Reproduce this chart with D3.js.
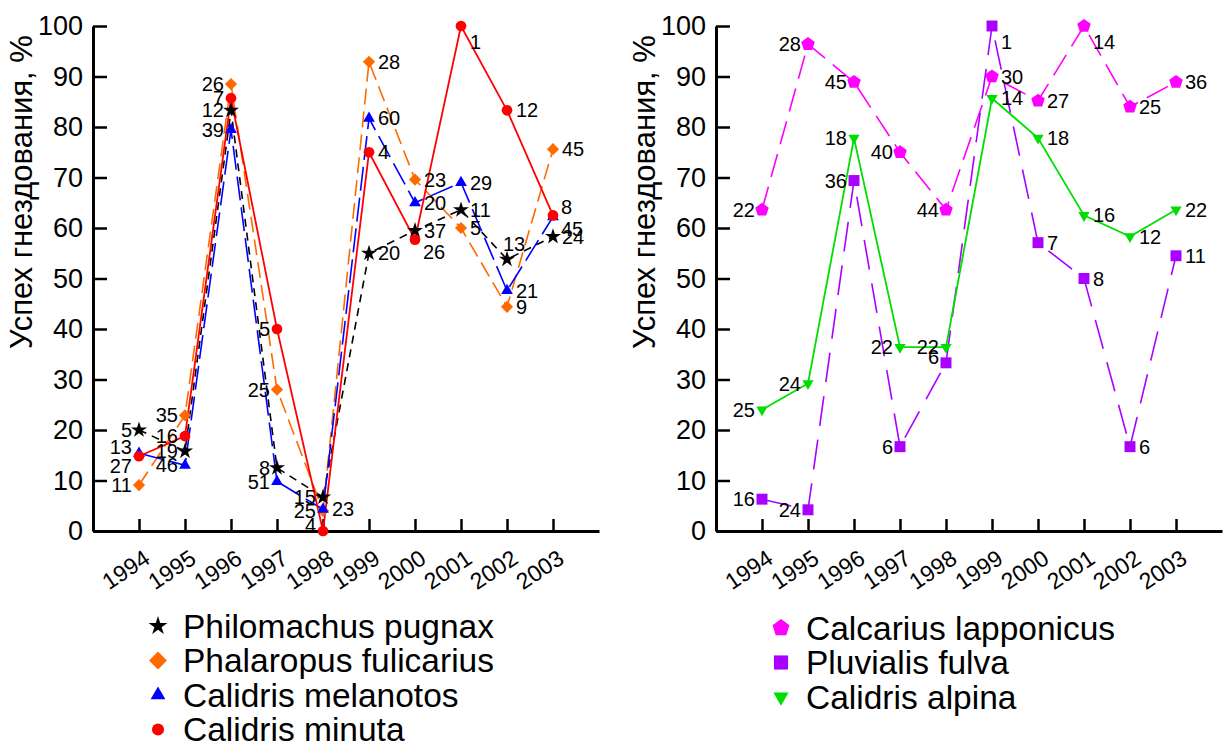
<!DOCTYPE html>
<html>
<head>
<meta charset="utf-8">
<script src="https://cdn.jsdelivr.net/npm/d3@7"></script>
<style>
body{margin:0;background:#fff}
svg text{font-family:"Liberation Sans",Arial,sans-serif;fill:#000}
</style>
</head>
<body>
<svg id="canvas" width="1232" height="745"></svg>
<script>
// years and nesting success (%) with sample sizes
let years = [1994, 1995, 1996, 1997, 1998, 1999, 2000, 2001, 2002, 2003]
let yTicks = [0, 10, 20, 30, 40, 50, 60, 70, 80, 90, 100]
let yTitle = 'Успех гнездования, %'

let pugnaxValues = [20, 15.8, 83.3, 12.5, 6.7, 55, 59.5, 63.6, 53.8, 58.3]
let pugnaxN = [5, 19, 12, 8, 15, 20, 37, 11, 13, 24]
let fulicariusValues = [9.1, 22.9, 88.5, 28, 4, 92.9, 69.6, 60, 44.4, 75.6]
let fulicariusN = [11, 35, 26, 25, 25, 28, 23, 5, 9, 45]
let melanotosValues = [15.4, 13, 79.5, 9.8, 4.3, 81.7, 65, 69, 47.6, 62.2]
let melanotosN = [13, 46, 39, 51, 23, 60, 20, 29, 21, 45]
let minutaValues = [14.8, 18.8, 85.7, 40, 0, 75, 57.7, 100, 83.3, 62.5]
let minutaN = [27, 16, 7, 5, 4, 4, 26, 1, 12, 8]

let lapponicusValues = [63.6, 96.4, 88.9, 75, 63.6, 90, 85.2, 100, 84, 88.9]
let lapponicusN = [22, 28, 45, 40, 44, 30, 27, 14, 25, 36]
let fulvaValues = [6.3, 4.2, 69.4, 16.7, 33.3, 100, 57.1, 50, 16.7, 54.5]
let fulvaN = [16, 24, 36, 6, 6, 1, 7, 8, 6, 11]
let alpinaValues = [24, 29.2, 77.8, 36.4, 36.4, 85.7, 77.8, 62.5, 58.3, 63.6]
let alpinaN = [25, 24, 18, 22, 22, 14, 18, 16, 12, 22]

let canvas = d3.select('#canvas')

// pentagon symbol for d3.symbol
let symbolPentagon = {
    draw: (context, size)=>{
        let r = Math.sqrt(size / 2.3776)
        for(let i = 0; i < 5; i++){
            let a = -Math.PI / 2 + i * 2 * Math.PI / 5
            if(i === 0) context.moveTo(r * Math.cos(a), r * Math.sin(a))
            else context.lineTo(r * Math.cos(a), r * Math.sin(a))
        }
        context.closePath()
    }
}

// label placement around a point
let place = {
    l:  {dx: -7, dy: 0, anchor: 'end'},
    lb: {dx: -7, dy: 10, anchor: 'end'},
    lu: {dx: -7, dy: -6, anchor: 'end'},
    r:  {dx: 9, dy: 0, anchor: 'start'},
    rb: {dx: 8, dy: 12, anchor: 'start'},
    rd: {dx: 9, dy: 16, anchor: 'start'},
    ru: {dx: 8, dy: -8, anchor: 'start'},
    ur: {dx: -4, dy: -15, anchor: 'start'}
}

let leftSeries = [
    {name: 'Philomachus pugnax', values: pugnaxValues, n: pugnaxN, color: '#000000', dash: '8,6', width: 1.6,
     symbol: d3.symbolStar, size: 80, legendSize: 110, rotate: 0,
     labels: ['l','l','l','l','l','r','r','r','ur','r']},
    {name: 'Phalaropus fulicarius', values: fulicariusValues, n: fulicariusN, color: '#ff6a00', dash: '16,7', width: 1.6,
     symbol: d3.symbolSquare, size: 75, legendSize: 160, rotate: 45,
     labels: ['l','l','l','l','l','r','r','r','r','r']},
    {name: 'Calidris melanotos', values: melanotosValues, n: melanotosN, color: '#0000ff', dash: '24,7', width: 1.6,
     symbol: d3.symbolTriangle, size: 60, legendSize: 95, rotate: 0,
     labels: ['lu','l','l','l','r','r','r','r','r','rb']},
    {name: 'Calidris minuta', values: minutaValues, n: minutaN, color: '#ff0000', dash: null, width: 1.8,
     symbol: d3.symbolCircle, size: 90, legendSize: 115, rotate: 0,
     labels: ['lb','l','l','l','lu','r','rb','rd','r','ru']}
]

let rightSeries = [
    {name: 'Calcarius lapponicus', values: lapponicusValues, n: lapponicusN, color: '#ff00ff', dash: '24,10', width: 1.6,
     symbol: symbolPentagon, size: 120, legendSize: 190, rotate: 0,
     labels: ['l','l','l','l','l','r','r','rd','r','r']},
    {name: 'Pluvialis fulva', values: fulvaValues, n: fulvaN, color: '#aa00ff', dash: '30,14', width: 1.6,
     symbol: d3.symbolSquare, size: 120, legendSize: 200, rotate: 0,
     labels: ['l','l','l','l','lu','rd','r','r','r','r']},
    {name: 'Calidris alpina', values: alpinaValues, n: alpinaN, color: '#00dd00', dash: null, width: 1.8,
     symbol: d3.symbolTriangle, size: 55, legendSize: 100, rotate: 180,
     labels: ['l','l','l','l','l','r','r','r','r','r']}
]

let drawChart = (series, left, legendX, legendY)=>{
    let g = canvas.append('g')
    let xScale = d3.scaleLinear().domain([1993, 2004]).range([left, left + 506])
    let yScale = d3.scaleLinear().domain([0, 100]).range([531, 26])

    // y axis
    let yAxis = d3.axisLeft(yScale).tickValues(yTicks).tickSizeInner(-14).tickSizeOuter(0)
    let ya = g.append('g').attr('transform', 'translate(' + left + ',0)').call(yAxis)
    ya.select('.domain').attr('stroke-width', 3)
    ya.selectAll('.tick line').attr('stroke-width', 2.5)
    ya.selectAll('.tick text').attr('font-size', 27).attr('x', -10)

    // x axis
    let xAxis = d3.axisBottom(xScale).tickValues(years).tickFormat(d3.format('d')).tickSizeInner(-12).tickSizeOuter(0)
    let xa = g.append('g').attr('transform', 'translate(0,531)').call(xAxis)
    xa.select('.domain').attr('stroke-width', 3)
    xa.selectAll('.tick line').attr('stroke-width', 2.5)
    xa.selectAll('.tick text')
      .attr('font-size', 23)
      .attr('text-anchor', 'end')
      .attr('dy', null)
      .attr('y', null)
      .attr('transform', 'translate(12,31) rotate(-34)')

    g.append('text')
     .attr('transform', 'translate(' + (left - 61) + ',192) rotate(-90)')
     .attr('text-anchor', 'middle')
     .attr('font-size', 31)
     .text(yTitle)

    let line = d3.line().x((d, i)=>xScale(years[i])).y((d)=>yScale(d))

    series.forEach((s)=>{
        g.append('path')
         .attr('d', line(s.values))
         .attr('fill', 'none')
         .attr('stroke', s.color)
         .attr('stroke-width', s.width)
         .attr('stroke-dasharray', s.dash)
    })

    series.forEach((s)=>{
        g.selectAll(null)
         .data(s.values)
         .enter()
         .append('path')
         .attr('d', d3.symbol().type(s.symbol).size(s.size))
         .attr('transform', (d, i)=>'translate(' + xScale(years[i]) + ',' + yScale(d) + ') rotate(' + s.rotate + ')')
         .attr('fill', s.color)
    })

    series.forEach((s)=>{
        g.selectAll(null)
         .data(s.values)
         .enter()
         .append('text')
         .attr('x', (d, i)=>xScale(years[i]) + place[s.labels[i]].dx)
         .attr('y', (d, i)=>yScale(d) + place[s.labels[i]].dy)
         .attr('dy', '0.35em')
         .attr('text-anchor', (d, i)=>place[s.labels[i]].anchor)
         .attr('font-size', 20)
         .text((d, i)=>s.n[i])
    })

    // legend
    series.forEach((s, i)=>{
        let y = legendY + i * 34.5
        g.append('path')
         .attr('d', d3.symbol().type(s.symbol).size(s.legendSize))
         .attr('transform', 'translate(' + legendX + ',' + y + ') rotate(' + s.rotate + ')')
         .attr('fill', s.color)
        g.append('text')
         .attr('x', legendX + 25)
         .attr('y', y)
         .attr('dy', '0.35em')
         .attr('font-size', 33.5)
         .text(s.name)
    })
}

drawChart(leftSeries, 93, 158, 626)
drawChart(rightSeries, 716, 781, 628)
</script>
</body>
</html>
